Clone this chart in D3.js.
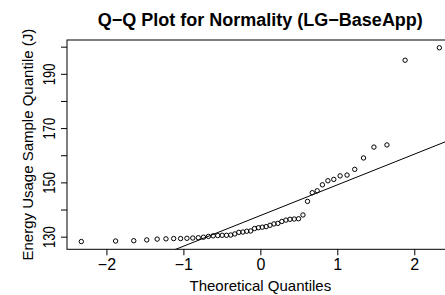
<!DOCTYPE html>
<html>
<head>
<meta charset="utf-8">
<script src="https://cdn.jsdelivr.net/npm/d3@7"></script>
<style>
  html, body { margin: 0; padding: 0; background: #fff; }
  svg { display: block; font-family: "Liberation Sans", Arial, Helvetica, sans-serif; }
</style>
</head>
<body>
<svg id="chart" width="445" height="295"></svg>
<script>
// Theoretical normal quantiles (n = 50)
const theoretical = [-2.3263, -1.8808, -1.6449, -1.4758, -1.3408, -1.2265, -1.1264, -1.0364, -0.9542, -0.8779,
  -0.8064, -0.7388, -0.6745, -0.6128, -0.5534, -0.4959, -0.4399, -0.3853, -0.3319, -0.2793,
  -0.2275, -0.1764, -0.1257, -0.0753, -0.0251, 0.0251, 0.0753, 0.1257, 0.1764, 0.2275,
  0.2793, 0.3319, 0.3853, 0.4399, 0.4959, 0.5534, 0.6128, 0.6745, 0.7388, 0.8064,
  0.8779, 0.9542, 1.0364, 1.1264, 1.2265, 1.3408, 1.4758, 1.6449, 1.8808, 2.3263];
// Sorted sample energy usage (J)
const sample = [128.2, 128.4, 128.5, 128.8, 129.1, 129.2, 129.3, 129.3, 129.4, 129.5,
  129.6, 129.8, 130.1, 130.3, 130.4, 130.5, 130.5, 130.6, 131.0, 131.6,
  131.7, 132.0, 132.1, 133.0, 133.3, 133.5, 133.7, 134.2, 134.7, 134.9,
  135.6, 136.1, 136.4, 136.5, 136.6, 138.0, 143.0, 146.2, 146.9, 149.1,
  150.6, 151.1, 152.4, 152.7, 154.8, 159.0, 163.0, 163.8, 195.0, 199.6];
const xTicks = [-2, -1, 0, 1, 2];
const yTicks = [130, 140, 150, 160, 170, 180, 190, 200];
const yLabels = [130, 150, 170, 190];
const titleText = "Q\u2212Q Plot for Normality (LG\u2212BaseApp)";
const xTitle = "Theoretical Quantiles";
const yTitle = "Energy Usage Sample Quantile (J)";

const svg = d3.select("#chart");
const L = 67, R = 453.7, T = 40, B = 249.3;

function ext(arr) {
  const [a, b] = d3.extent(arr);
  const r = b - a;
  return [a - 0.04 * r, b + 0.04 * r];
}
const x = d3.scaleLinear().domain(ext(theoretical)).range([L, R]);
const y = d3.scaleLinear().domain(ext(sample)).range([B, T]);

// qqline through quartiles (R default)
const q1 = d3.quantileSorted(sample, 0.25), q3 = d3.quantileSorted(sample, 0.75);
const z1 = -0.6745, z3 = 0.6745;
const slope = (q3 - q1) / (z3 - z1);
const intercept = q1 - slope * z1;

svg.append("defs").append("clipPath").attr("id", "clip")
  .append("rect").attr("x", L).attr("y", T).attr("width", R - L).attr("height", B - T);

const xd = x.domain();
svg.append("line")
  .attr("clip-path", "url(#clip)")
  .attr("x1", x(xd[0])).attr("y1", y(intercept + slope * xd[0]))
  .attr("x2", x(xd[1])).attr("y2", y(intercept + slope * xd[1]))
  .attr("stroke", "#000").attr("stroke-width", 1);

svg.append("g").selectAll("circle").data(theoretical).join("circle")
  .attr("cx", d => x(d)).attr("cy", (d, i) => y(sample[i]))
  .attr("r", 2.2).attr("fill", "none").attr("stroke", "#000").attr("stroke-width", 1);

// box
svg.append("rect").attr("x", L).attr("y", T).attr("width", R - L).attr("height", B - T)
  .attr("fill", "none").attr("stroke", "#000").attr("stroke-width", 1);

// x axis
const xAxis = d3.axisBottom(x).tickValues(xTicks).tickSize(6).tickPadding(3)
  .tickFormat(d => d < 0 ? "\u2212" + Math.abs(d) : d);
const gx = svg.append("g").attr("transform", `translate(0,${B})`).call(xAxis);
gx.select(".domain").remove();
gx.selectAll("text").attr("font-size", 16).attr("fill", "#000").attr("font-family", "Liberation Sans, Arial, sans-serif");
gx.selectAll("line").attr("stroke", "#000");

// y axis
const yAxis = d3.axisLeft(y).tickValues(yTicks).tickSize(6)
  .tickFormat(d => yLabels.includes(d) ? d : "");
const gy = svg.append("g").attr("transform", `translate(${L},0)`).call(yAxis);
gy.select(".domain").remove();
gy.selectAll("line").attr("stroke", "#000");
gy.selectAll("text")
  .attr("font-size", 13).attr("fill", "#000")
  .attr("font-family", "Liberation Sans, Arial, sans-serif")
  .attr("text-anchor", "middle").attr("dy", null).attr("x", null)
  .attr("transform", "translate(-12,0) rotate(-90) scale(1,1.25)");

// titles
svg.append("text").attr("x", (L + R) / 2).attr("y", 26).attr("text-anchor", "middle")
  .attr("font-size", 18).attr("font-weight", "bold").text(titleText);
svg.append("text").attr("x", (L + R) / 2).attr("y", 291).attr("text-anchor", "middle")
  .attr("font-size", 15).text(xTitle);
svg.append("text").attr("transform", `translate(33,${(T + B) / 2}) rotate(-90)`)
  .attr("text-anchor", "middle").attr("font-size", 15).text(yTitle);
</script>
</body>
</html>
